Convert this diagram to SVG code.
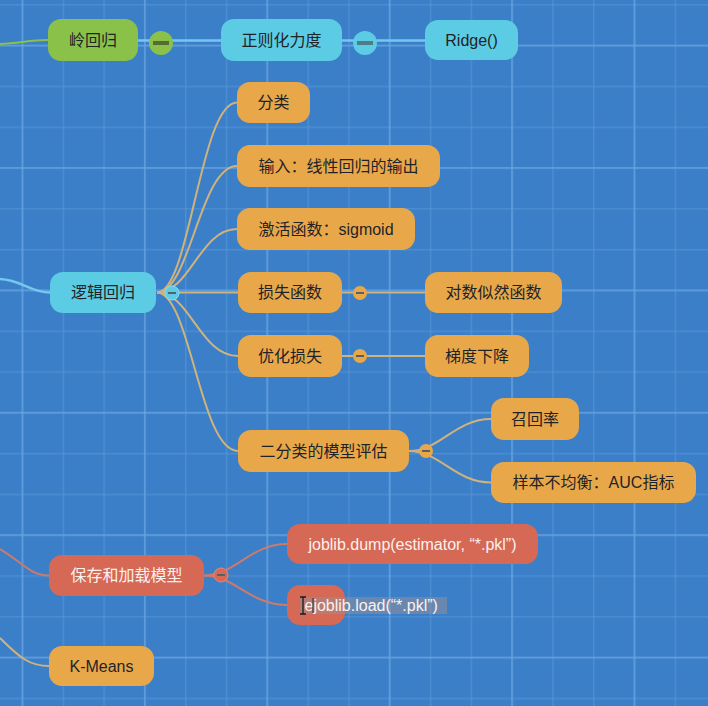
<svg xmlns="http://www.w3.org/2000/svg" width="708" height="706" viewBox="0 0 708 706">
<defs>
<pattern id="minor" patternUnits="userSpaceOnUse" x="21.8" y="4.1" width="40.8" height="40.8">
<rect x="0" y="0" width="40.8" height="1.4" fill="#5a98d8" opacity="0.55"/>
<rect x="0" y="0" width="1.4" height="40.8" fill="#5a98d8" opacity="0.55"/>
</pattern>
<pattern id="major" patternUnits="userSpaceOnUse" x="143.9" y="167" width="122.4" height="122.4">
<rect x="0" y="0" width="122.4" height="1.8" fill="#6aa6e0" opacity="0.6"/>
<rect x="0" y="0" width="1.8" height="122.4" fill="#6aa6e0" opacity="0.6"/>
</pattern>
</defs>
<style>
.t{font-family:'Liberation Sans','Noto Sans CJK SC',sans-serif;font-size:16px;text-anchor:middle;fill:#1f2326}
.w{fill:#fbf1ec}
.green{fill:#8ac149}
.cyan{fill:#5ccbe4}
.orange{fill:#e8a84a}
.red{fill:#d66856}
.lo{fill:none;stroke:#cfb27c;stroke-width:2}
.lr{fill:none;stroke:#cc7a6a;stroke-width:2}
.lc{fill:none;stroke:#74c8ee;stroke-width:2.5}
.lg{fill:none;stroke:#8ac149;stroke-width:2}
.bar{fill:#55606a}
</style>
<rect width="708" height="706" fill="#3b7fc9"/>
<rect width="708" height="706" fill="url(#minor)"/>
<rect width="708" height="706" fill="url(#major)"/>

<g id="connectors">
<path class="lg" d="M0 44 C20 43 30 40 48 40"/>
<path class="lc" d="M138 40.5 H221"/>
<path class="lc" d="M342 40.5 H425"/>
<path class="lc" d="M0 279 C22 280 30 292.5 50 292.5"/>
<path class="lo" d="M157 292.5 C190 292.5 200 102.5 237 102.5"/>
<path class="lo" d="M157 292.5 C190 292.5 200 166 237 166"/>
<path class="lo" d="M157 292.5 C190 292.5 200 229 237 229"/>
<path class="lo" d="M157 292.5 H238"/>
<path class="lo" d="M157 292.5 C190 292.5 200 356 238 356"/>
<path class="lo" d="M157 292.5 C190 292.5 200 451 238 451"/>
<path class="lo" d="M342 292.5 H425"/>
<path class="lo" d="M342 356 H425"/>
<path class="lo" d="M409 451 C440 451 455 419 491 419"/>
<path class="lo" d="M409 451 C440 451 455 482.5 491 482.5"/>
<path class="lr" d="M0 549 C22 562 30 575.5 49 575.5"/>
<path class="lr" d="M204 575.5 C235 575.5 250 544 287 544"/>
<path class="lr" d="M204 575.5 C235 575.5 250 605 287 605"/>
<path class="lo" d="M0 638 C20 658 30 666 49 666"/>
</g>

<g id="toggles">
<circle class="green" cx="161" cy="43" r="12"/><rect x="153" y="41" width="16" height="4" fill="#566b37"/>
<circle class="cyan" cx="365" cy="43" r="12"/><rect x="357" y="41" width="16" height="4" fill="#4d7d89"/>
<circle class="cyan" cx="172" cy="293" r="7" stroke="#8fdcef" stroke-width="1"/><rect x="168" y="292" width="8" height="2" class="bar"/>
<circle class="orange" cx="360" cy="293" r="7"/><rect x="356" y="292" width="8" height="2" class="bar"/>
<circle class="orange" cx="360" cy="356" r="7"/><rect x="356" y="355" width="8" height="2" class="bar"/>
<circle class="orange" cx="426" cy="451" r="7"/><rect x="422" y="450" width="8" height="2" class="bar"/>
<circle class="red" cx="221" cy="575" r="7" stroke="#e08a78" stroke-width="1"/><rect x="217" y="574" width="8" height="2" class="bar"/>
</g>

<g id="n-lingguihui"><rect class="green" x="48" y="19" width="90" height="42" rx="13"/><text class="t" x="93" y="46">岭回归</text></g>
<g id="n-zhengze"><rect class="cyan" x="221" y="19" width="121" height="42" rx="13"/><text class="t" x="281.5" y="46">正则化力度</text></g>
<g id="n-ridge"><rect class="cyan" x="425" y="20" width="93" height="40" rx="13"/><text class="t" x="471.5" y="46">Ridge()</text></g>

<g id="n-luoji"><rect class="cyan" x="50" y="272" width="106" height="41" rx="13"/><text class="t" x="103" y="298">逻辑回归</text></g>
<g id="n-fenlei"><rect class="orange" x="237" y="82" width="73" height="41" rx="13"/><text class="t" x="273.5" y="108">分类</text></g>
<g id="n-shuru"><rect class="orange" x="237" y="145" width="203" height="42" rx="13"/><text class="t" x="338.5" y="171.5">输入：线性回归的输出</text></g>
<g id="n-jihuo"><rect class="orange" x="237" y="208" width="178" height="42" rx="13"/><text class="t" x="326" y="234.5">激活函数：sigmoid</text></g>
<g id="n-sunshi"><rect class="orange" x="238" y="272" width="104" height="41" rx="13"/><text class="t" x="290" y="298">损失函数</text></g>
<g id="n-duishu"><rect class="orange" x="425" y="272" width="137" height="41" rx="13"/><text class="t" x="493.5" y="298">对数似然函数</text></g>
<g id="n-youhua"><rect class="orange" x="238" y="335" width="104" height="42" rx="13"/><text class="t" x="290" y="361.5">优化损失</text></g>
<g id="n-tidu"><rect class="orange" x="425" y="335" width="104" height="42" rx="13"/><text class="t" x="477" y="361.5">梯度下降</text></g>
<g id="n-erfenlei"><rect class="orange" x="238" y="430" width="171" height="42" rx="13"/><text class="t" x="323.5" y="456.5">二分类的模型评估</text></g>
<g id="n-zhaohui"><rect class="orange" x="491" y="398" width="88" height="42" rx="13"/><text class="t" x="535" y="424.5">召回率</text></g>
<g id="n-yangben"><rect class="orange" x="491" y="462" width="205" height="41" rx="13"/><text class="t" x="593.5" y="488">样本不均衡：AUC指标</text></g>

<g id="n-baocun"><rect class="red" x="49" y="555" width="155" height="41" rx="13"/><text class="t w" x="126.5" y="581">保存和加载模型</text></g>
<g id="n-dump"><rect class="red" x="287" y="524" width="251" height="40" rx="13"/><text class="t w" x="412.5" y="549.5">joblib.dump(estimator, “*.pkl”)</text></g>
<g id="n-load"><rect class="red" x="287" y="585" width="58" height="40" rx="13"/>
<rect x="300" y="597" width="147" height="17" fill="#9a9096" opacity="0.5"/>
<text class="t w" x="304.5" y="611" style="text-anchor:start">ejoblib.load(“*.pkl”)</text>
<path d="M300 597 H306 M303 597 V614 M300 614 H306" fill="none" stroke="#1a1a1a" stroke-width="1.3"/>
<path d="M313 598 V613" stroke="#2a2a2a" stroke-width="1"/>
</g>
<g id="n-kmeans"><rect class="orange" x="49" y="646" width="105" height="40" rx="13"/><text class="t" x="101.5" y="671.5">K-Means</text></g>
</svg>
